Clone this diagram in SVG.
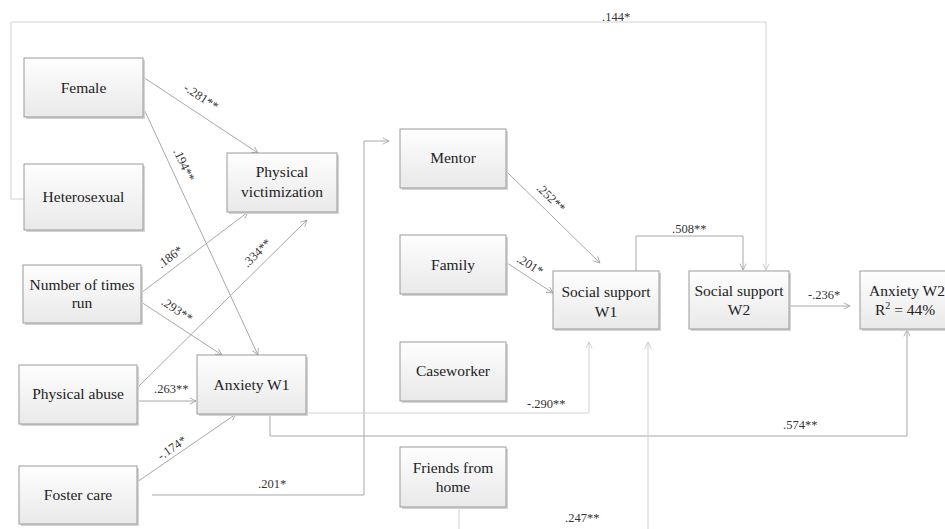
<svg xmlns="http://www.w3.org/2000/svg" width="945" height="529" viewBox="0 0 945 529">
<style>
.box{fill:url(#g);stroke:#9a9a9a;stroke-width:1}
.sh{fill:#d4d4d4}
.t{font-family:"Liberation Serif","Times New Roman",serif;font-size:15.5px;fill:#222;text-anchor:middle}
.l{font-family:"Liberation Serif","Times New Roman",serif;font-size:12.5px;fill:#333}
.lc{font-family:"Liberation Serif","Times New Roman",serif;font-size:12.5px;fill:#333;text-anchor:middle}
.c{fill:none;stroke:#a8a8a8;stroke-width:1;marker-end:url(#ah)}
.cl{fill:none;stroke:#d2d2d2;stroke-width:1;marker-end:url(#ahl)}
</style>
<defs>
<linearGradient id="g" x1="0" y1="0" x2="0" y2="1">
<stop offset="0" stop-color="#fefefe"/>
<stop offset="1" stop-color="#e9e9e9"/>
</linearGradient>
<marker id="ah" viewBox="0 0 10 10" refX="9" refY="5" markerWidth="9" markerHeight="9" orient="auto" markerUnits="userSpaceOnUse">
<path d="M2,1.5 L9,5 L2,8.5" fill="none" stroke="#a8a8a8" stroke-width="1"/>
</marker>
<marker id="ahl" viewBox="0 0 10 10" refX="9" refY="5" markerWidth="9" markerHeight="9" orient="auto" markerUnits="userSpaceOnUse">
<path d="M2,1.5 L9,5 L2,8.5" fill="none" stroke="#c8c8c8" stroke-width="1"/>
</marker>
</defs>
<rect width="945" height="529" fill="#fff"/>

<g id="connectors">
<polyline class="cl" points="24,199 11,199 11,22 766,22 766,270"/>
<line class="c" x1="143" y1="77" x2="258" y2="153"/>
<line class="c" x1="143" y1="107" x2="258" y2="355"/>
<line class="c" x1="141" y1="293" x2="248" y2="212"/>
<line class="c" x1="141" y1="302" x2="222" y2="355"/>
<line class="c" x1="137" y1="388" x2="307" y2="220"/>
<line class="c" x1="137" y1="401" x2="196" y2="401"/>
<line class="c" x1="137" y1="482" x2="236" y2="414"/>
<polyline class="c" points="152,495 364,495 364,141 389,141"/>
<line class="c" x1="507" y1="172" x2="600" y2="263"/>
<line class="c" x1="507" y1="263" x2="553" y2="293"/>
<polyline class="cl" points="306,413 589,413 589,342"/>
<polyline class="c" points="270,414 270,436 907,436 907,330"/>
<polyline class="cl" points="459,507 459,545 648,545 648,342"/>
<polyline class="c" points="636,271 636,236 743,236 743,270"/>
<line class="c" x1="789" y1="306" x2="850" y2="306"/>

<text class="l" x="602" y="21">.144*</text>
<text class="lc" transform="translate(201,97) rotate(33.5)" y="4">-.281**</text>
<text class="lc" transform="translate(184,165) rotate(65)" y="4">.194**</text>
<text class="lc" transform="translate(170,257) rotate(-37)" y="4">.186*</text>
<text class="lc" transform="translate(257,253) rotate(-44.7)" y="4">.334**</text>
<text class="lc" transform="translate(177,310) rotate(33.7)" y="4">.293**</text>
<text class="l" x="154" y="393">.263**</text>
<text class="lc" transform="translate(172,448) rotate(-35)" y="4">-.174*</text>
<text class="l" x="258" y="488">.201*</text>
<text class="lc" transform="translate(551,198) rotate(44)" y="4">.252**</text>
<text class="lc" transform="translate(530,265) rotate(31)" y="4">.201*</text>
<text class="l" x="527" y="408">-.290**</text>
<text class="l" x="565" y="522">.247**</text>
<text class="l" x="672" y="233">.508**</text>
<text class="l" x="808" y="299">-.236*</text>
<text class="l" x="783" y="429">.574**</text>
</g>

<g id="female"><rect class="sh" x="26" y="60" width="119" height="59"/><rect class="box" x="24" y="58" width="119" height="59"/><text class="t" x="83.5" y="93">Female</text></g>
<g id="heterosexual"><rect class="sh" x="26" y="166" width="119" height="66"/><rect class="box" x="24" y="164" width="119" height="66"/><text class="t" x="83.5" y="202">Heterosexual</text></g>
<g id="physical-victimization"><rect class="sh" x="229" y="155" width="110" height="59"/><rect class="box" x="227" y="153" width="110" height="59"/><text class="t" x="282" y="177">Physical</text><text class="t" x="282" y="197">victimization</text></g>
<g id="number-of-times-run"><rect class="sh" x="25" y="267" width="118" height="58"/><rect class="box" x="23" y="265" width="118" height="58"/><text class="t" x="82" y="290">Number of times</text><text class="t" x="82" y="308">run</text></g>
<g id="physical-abuse"><rect class="sh" x="21" y="367" width="118" height="59"/><rect class="box" x="19" y="365" width="118" height="59"/><text class="t" x="78" y="399">Physical abuse</text></g>
<g id="foster-care"><rect class="sh" x="21" y="468" width="118" height="58"/><rect class="box" x="19" y="466" width="118" height="58"/><text class="t" x="78" y="500">Foster care</text></g>
<g id="anxiety-w1"><rect class="sh" x="199" y="357" width="109" height="59"/><rect class="box" x="197" y="355" width="109" height="59"/><text class="t" x="251.5" y="390">Anxiety W1</text></g>
<g id="mentor"><rect class="sh" x="402" y="131" width="106" height="59"/><rect class="box" x="400" y="129" width="106" height="59"/><text class="t" x="453" y="163">Mentor</text></g>
<g id="family"><rect class="sh" x="402" y="237" width="106" height="59"/><rect class="box" x="400" y="235" width="106" height="59"/><text class="t" x="453" y="270">Family</text></g>
<g id="caseworker"><rect class="sh" x="402" y="344" width="106" height="59"/><rect class="box" x="400" y="342" width="106" height="59"/><text class="t" x="453" y="376">Caseworker</text></g>
<g id="friends-from-home"><rect class="sh" x="402" y="449" width="106" height="60"/><rect class="box" x="400" y="447" width="106" height="60"/><text class="t" x="453" y="473">Friends from</text><text class="t" x="453" y="492">home</text></g>
<g id="social-support-w1"><rect class="sh" x="555" y="273" width="106" height="58"/><rect class="box" x="553" y="271" width="106" height="58"/><text class="t" x="606" y="297">Social support</text><text class="t" x="606" y="317">W1</text></g>
<g id="social-support-w2"><rect class="sh" x="691" y="273" width="100" height="58"/><rect class="box" x="689" y="271" width="100" height="58"/><text class="t" x="739" y="296">Social support</text><text class="t" x="739" y="315">W2</text></g>
<g id="anxiety-w2"><rect class="sh" x="862" y="273" width="106" height="58"/><rect class="box" x="860" y="271" width="106" height="58"/><text class="t" x="907" y="296">Anxiety W2</text><text class="t" x="875" y="315" style="text-anchor:start">R<tspan dy="-6" font-size="10">2</tspan><tspan dy="6"> = 44%</tspan></text></g>
</svg>
